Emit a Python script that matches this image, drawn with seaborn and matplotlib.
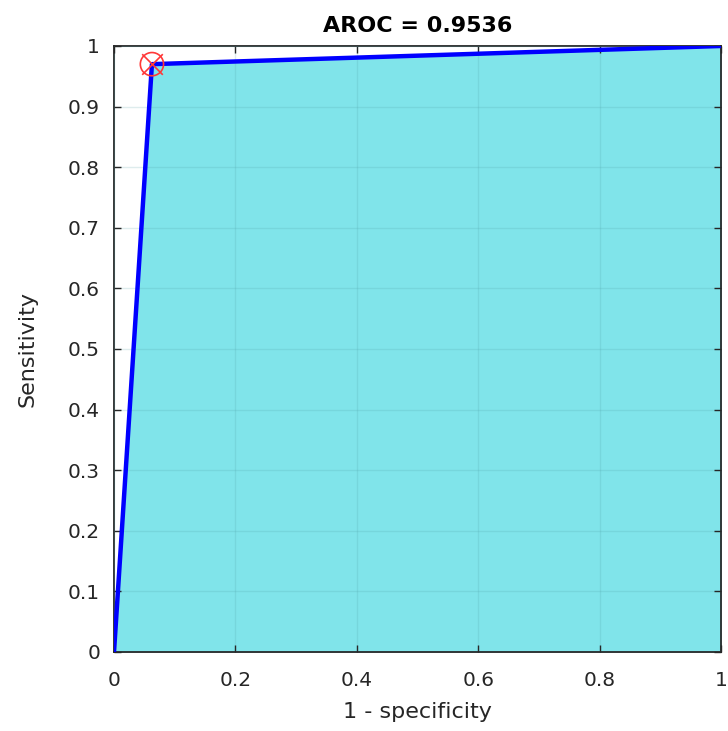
import numpy as np
import pandas as pd
import matplotlib
matplotlib.use("Agg")
import matplotlib.pyplot as plt
import seaborn as sns

# ROC curve points
fpr = [0.0, 0.0625, 1.0]
tpr = [0.0, 0.97, 1.0]
# optimal operating point
opt_fpr = [0.0625]
opt_tpr = [0.97]
auc_value = 0.9536
ticks = [0, 0.2, 0.4, 0.6, 0.8, 1]
yticks = [0, 0.1, 0.2, 0.3, 0.4, 0.5, 0.6, 0.7, 0.8, 0.9, 1]

sns.set_theme(style="white")
plt.rcParams['font.family'] = ['DejaVu Sans']

df = pd.DataFrame({"fpr": fpr, "tpr": tpr})

fig = plt.figure(figsize=(7.28, 7.31), dpi=100)
ax = fig.add_axes([0.1566, 0.1081, 0.8338, 0.829])

# shaded area under the curve
ax.fill_between(df["fpr"], df["tpr"], 0, color="#80E4EA", zorder=1, linewidth=0)

# grid drawn on top of fill, faint
ax.set_axisbelow(False)
ax.grid(True, color="#4a9aa0", alpha=0.18, linewidth=1.0, zorder=2)

sns.lineplot(data=df, x="fpr", y="tpr", color="#0000FF", linewidth=3.2, ax=ax, zorder=3,
             sort=False)
ax.scatter(opt_fpr, opt_tpr, s=280, marker="o", facecolors="none", edgecolors="#FF3838",
           linewidths=1.2, zorder=4)
ax.scatter(opt_fpr, opt_tpr, s=220, marker="x", color="#FF3838", linewidths=1.2, zorder=4)

ax.set_xlim(0, 1)
ax.set_ylim(0, 1)
ax.set_xticks(ticks)
ax.set_xticklabels([f"{t:g}" for t in ticks])
ax.set_yticks(yticks)
ax.set_yticklabels([f"{t:g}" for t in yticks])
ax.tick_params(direction="in", length=5, width=1, color="#262626", labelsize=14.5,
               labelcolor="#262626", top=True, right=True, bottom=True, left=True)
ax.tick_params(axis="x", pad=14)
ax.tick_params(axis="y", pad=10)

for s in ax.spines.values():
    s.set_color("#262626")
    s.set_linewidth(1.3)

ax.set_xlabel("1 - specificity", fontsize=16, color="#262626", labelpad=8)
ax.set_ylabel("Sensitivity", fontsize=16, color="#262626", labelpad=22)
ax.set_title(f"AROC = {auc_value}", fontsize=16, fontweight="bold", color="#000000",
             pad=10)

fig.savefig("out.png", dpi=100)
